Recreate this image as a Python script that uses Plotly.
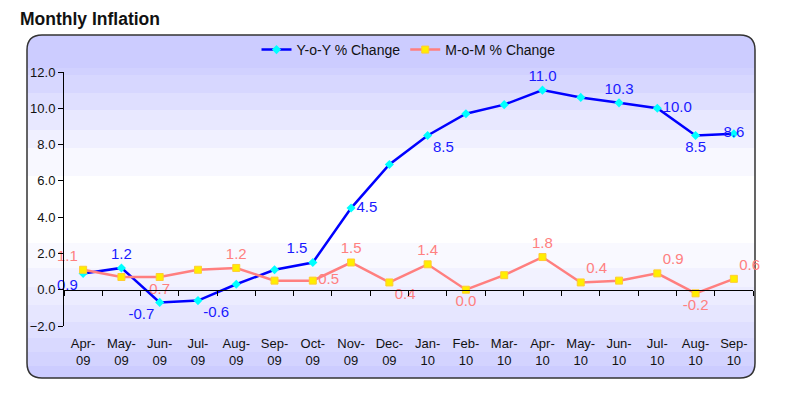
import plotly.graph_objects as go

# ---------------- data ----------------
months = ["Apr-09", "May-09", "Jun-09", "Jul-09", "Aug-09", "Sep-09", "Oct-09", "Nov-09", "Dec-09",
          "Jan-10", "Feb-10", "Mar-10", "Apr-10", "May-10", "Jun-10", "Jul-10", "Aug-10", "Sep-10"]
yoy = [0.9, 1.2, -0.7, -0.6, 0.3, 1.1, 1.5, 4.5, 6.9, 8.5, 9.7, 10.2, 11.0, 10.6, 10.3, 10.0, 8.5, 8.6]
mom = [1.1, 0.7, 0.7, 1.1, 1.2, 0.5, 0.5, 1.5, 0.4, 1.4, 0.0, 0.8, 1.8, 0.4, 0.5, 0.9, -0.2, 0.6]
yoy_labelled = [0, 1, 2, 3, 6, 7, 9, 12, 14, 15, 16, 17]
mom_labelled = [0, 2, 4, 6, 7, 8, 9, 10, 12, 13, 15, 16, 17]
y_ticks = [-2, 0, 2, 4, 6, 8, 10, 12]

tick_text = [m.replace("-", "-<br>") for m in months]
xs = list(range(len(months)))

yoy_pos_map = {0: "bottom left", 1: "top center", 2: "bottom left", 3: "bottom right",
               6: "top left", 7: "middle right", 9: "bottom right", 12: "top center",
               14: "top center", 15: "middle right", 16: "bottom center", 17: "middle center"}
mom_pos_map = {0: "top left", 2: "bottom center", 4: "top center", 6: "middle right",
               7: "top center", 8: "bottom right", 9: "top center", 10: "bottom center",
               12: "top center", 13: "top right", 15: "top right", 16: "bottom center",
               17: "top right"}

yoy_text = [f"{v:.1f}" if i in yoy_labelled else "" for i, v in enumerate(yoy)]
mom_text = [f"{v:.1f}" if i in mom_labelled else "" for i, v in enumerate(mom)]
yoy_pos = [yoy_pos_map.get(i, "top center") for i in xs]
mom_pos = [mom_pos_map.get(i, "top center") for i in xs]

# ---------------- geometry (pixels) ----------------
W, H = 800, 395
PL, PR, PT, PB = 64, 753, 72, 326
FONT = "Liberation Sans, Arial, sans-serif"


def px_x(p):
    return (p - PL) / (PR - PL)


def px_y(p):
    return (PB - p) / (PB - PT)


fig = go.Figure()

fig.add_trace(go.Scatter(
    x=xs, y=yoy, name="Y-o-Y % Change", mode="lines+markers+text",
    line=dict(color="#0000ff", width=2.5),
    marker=dict(color="#00ffff", size=7, symbol="diamond"),
    text=yoy_text, textposition=yoy_pos,
    textfont=dict(color="#1a1aff", size=15, family=FONT),
    cliponaxis=False,
))
fig.add_trace(go.Scatter(
    x=xs, y=mom, name="M-o-M % Change", mode="lines+markers+text",
    line=dict(color="#ff7f7f", width=2.5),
    marker=dict(color="#ffee00", size=7, symbol="square", line=dict(color="#ffcc33", width=1)),
    text=mom_text, textposition=mom_pos,
    textfont=dict(color="#ff8080", size=15, family=FONT),
    cliponaxis=False,
))

# ---------------- background card ----------------
shapes = []
cx0, cx1, cy0, cy1, r = 27, 755, 35, 378, 15
lav = (204, 204, 255)


def mix(t):
    c = [round(255 + (l - 255) * t) for l in lav]
    return f"rgb({c[0]},{c[1]},{c[2]})"


top_bounds = [35, 68, 75, 93, 110, 130, 148, 176]
top_t = [1.0, 0.9, 0.78, 0.62, 0.46, 0.3, 0.14]
for i in range(len(top_bounds) - 1):
    shapes.append(dict(type="rect", xref="paper", yref="paper", layer="below",
                       x0=px_x(cx0), x1=px_x(cx1), y0=px_y(top_bounds[i + 1]), y1=px_y(top_bounds[i]),
                       line=dict(width=0), fillcolor=mix(top_t[i])))
bot_bounds = [243, 268, 287, 305, 322, 338, 352, 366, 378]
bot_t = [0.12, 0.25, 0.38, 0.5, 0.62, 0.74, 0.86, 1.0]
for i in range(len(bot_bounds) - 1):
    shapes.append(dict(type="rect", xref="paper", yref="paper", layer="below",
                       x0=px_x(cx0), x1=px_x(cx1), y0=px_y(bot_bounds[i + 1]), y1=px_y(bot_bounds[i]),
                       line=dict(width=0), fillcolor=mix(bot_t[i])))


def P(x, y):
    return f"{px_x(x):.5f},{px_y(y):.5f}"


# corner masks
corners = [
    (cx0, cy0, cx0 + r, cy0, cx0, cy0 + r),
    (cx1, cy0, cx1 - r, cy0, cx1, cy0 + r),
    (cx1, cy1, cx1, cy1 - r, cx1 - r, cy1),
    (cx0, cy1, cx0 + r, cy1, cx0, cy1 - r),
]
for (qx, qy, ax, ay, bx, by) in corners:
    path = f"M{P(qx, qy)} L{P(ax, ay)} Q{P(qx, qy)} {P(bx, by)} Z"
    shapes.append(dict(type="path", xref="paper", yref="paper", layer="below", path=path,
                       fillcolor="white", line=dict(width=0)))

border = (f"M{P(cx0 + r, cy0)} L{P(cx1 - r, cy0)} Q{P(cx1, cy0)} {P(cx1, cy0 + r)} "
          f"L{P(cx1, cy1 - r)} Q{P(cx1, cy1)} {P(cx1 - r, cy1)} "
          f"L{P(cx0 + r, cy1)} Q{P(cx0, cy1)} {P(cx0, cy1 - r)} "
          f"L{P(cx0, cy0 + r)} Q{P(cx0, cy0)} {P(cx0 + r, cy0)} Z")
shapes.append(dict(type="path", xref="paper", yref="paper", layer="below", path=border,
                   line=dict(color="#333333", width=1.5)))

ymin, ymax = -2, 12
zero_pos = (0 - ymin) / (ymax - ymin)

fig.update_layout(
    width=W, height=H,
    margin=dict(l=PL, r=W - PR, t=PT, b=H - PB, pad=0),
    paper_bgcolor="white", plot_bgcolor="rgba(0,0,0,0)",
    font=dict(family=FONT, color="#111111", size=13),
    title=dict(text="<b>Monthly Inflation</b>", x=20 / W, xanchor="left", xref="container",
               y=1 - 19 / H, yanchor="middle", yref="container",
               font=dict(size=17.5, family=FONT, color="#111111")),
    legend=dict(orientation="h", x=0.5, xanchor="center", y=px_y(50), yanchor="middle",
                bgcolor="rgba(0,0,0,0)", font=dict(size=14, family=FONT, color="#111111"),
                itemwidth=30, tracegroupgap=0),
    showlegend=True,
    shapes=shapes,
    xaxis=dict(range=[-0.5, len(months) - 0.5], tickmode="array", tickvals=xs, ticktext=tick_text,
               showgrid=False, zeroline=False, showline=False, ticks="",
               tickfont=dict(size=13, family=FONT, color="#111111"), ticklabelstandoff=8),
    xaxis2=dict(range=[-0.5, len(months) - 0.5], overlaying="x", anchor="free", position=zero_pos,
                side="bottom", tickmode="array", tickvals=[i - 0.5 for i in range(len(months) + 1)],
                showticklabels=False, ticks="outside", ticklen=5, tickcolor="black",
                showline=True, linecolor="black", linewidth=1, showgrid=False, zeroline=False),
    yaxis=dict(range=[ymin, ymax], tickmode="array", tickvals=y_ticks, tickformat=".1f",
               showgrid=False, zeroline=False, showline=True, linecolor="black", linewidth=1,
               ticks="outside", ticklen=5, tickcolor="black",
               tickfont=dict(size=13, family=FONT, color="#111111")),
)

# invisible helper trace so the zero-line axis renders
fig.add_trace(go.Scatter(x=[0], y=[0], xaxis="x2", mode="markers", marker=dict(opacity=0),
                         showlegend=False, hoverinfo="skip"))

fig.write_html("out.html", config={"displayModeBar": False},
               post_script="document.body.style.margin='0px';document.body.style.overflow='hidden';")
